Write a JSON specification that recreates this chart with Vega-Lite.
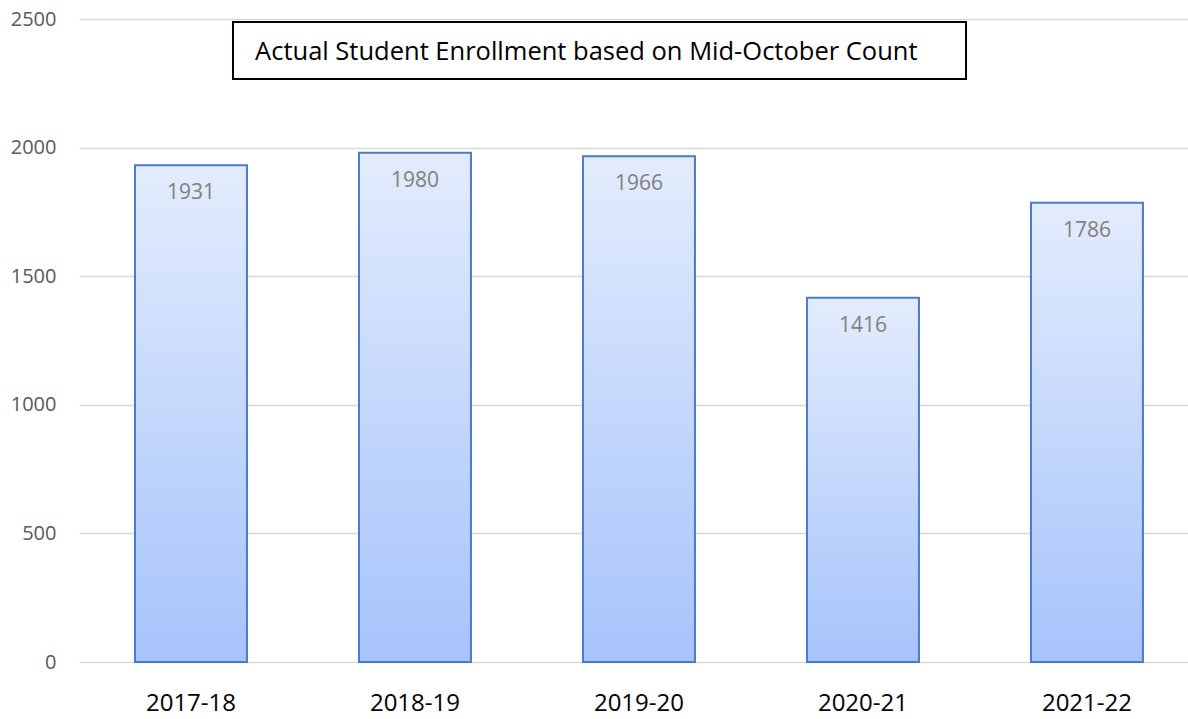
{
  "$schema": "https://vega.github.io/schema/vega-lite/v6.json",
  "width": 1109,
  "height": 643,
  "autosize": {"type": "none"},
  "padding": {"left": 79, "top": 19, "right": 0, "bottom": 57},
  "background": "white",
  "config": {"view": {"stroke": null}, "font": "Open Sans"},
  "layer": [
    {
      "data": {"values": [
        {"year": "2017-18", "enrollment": 1931},
        {"year": "2018-19", "enrollment": 1980},
        {"year": "2019-20", "enrollment": 1966},
        {"year": "2020-21", "enrollment": 1416},
        {"year": "2021-22", "enrollment": 1786}
      ]},
      "encoding": {
        "x": {"field": "year", "type": "nominal", "sort": null,
          "scale": {"paddingInner": 0.5, "paddingOuter": 0.2255, "align": 0.554},
          "axis": {"title": null, "labelAngle": 0, "labelFontSize": 24, "labelColor": "#000000", "labelPadding": 29, "ticks": false, "domain": false, "grid": false, "labelFont": "Open Sans"}},
        "y": {"field": "enrollment", "type": "quantitative",
          "scale": {"domain": [0, 2500], "nice": false},
          "axis": {"title": null, "values": [0, 500, 1000, 1500, 2000, 2500], "format": "d", "labelFontSize": 20, "labelColor": "#595959", "labelPadding": 23, "ticks": false, "domain": false, "grid": true, "gridColor": "#d9d9d9", "gridWidth": 1.5, "labelFont": "Open Sans"}}
      },
      "layer": [
        {"mark": {"type": "bar", "stroke": "#4a7bc4", "strokeWidth": 2,
          "color": {"gradient": "linear", "x1": 0, "y1": 0, "x2": 0, "y2": 1,
            "stops": [{"offset": 0, "color": "#e3ecfd"}, {"offset": 1, "color": "#a6c3fb"}]}}},
        {"mark": {"type": "text", "baseline": "middle", "dy": 28, "fontSize": 21, "color": "#7f7f7f", "font": "Open Sans"},
          "encoding": {"text": {"field": "enrollment", "type": "quantitative"}}}
      ]
    },
    {
      "data": {"values": [
        {"label": "Actual Student Enrollment based on Mid-October Count", "x1": 0.1875, "x2": 3.46, "tx": 0.286, "y1": 2488, "y2": 2267, "ty": 2372}
      ]},
      "layer": [
        {"mark": {"type": "rect", "fill": "white", "stroke": "#000000", "strokeWidth": 2},
          "encoding": {
            "x": {"field": "x1", "type": "quantitative", "scale": {"domain": [-0.5, 4.451], "nice": false, "zero": false}, "axis": null},
            "x2": {"field": "x2"},
            "y": {"field": "y1", "type": "quantitative"},
            "y2": {"field": "y2"}
          }},
        {"mark": {"type": "text", "align": "left", "baseline": "middle", "fontSize": 25.5, "color": "#000000", "font": "Open Sans"},
          "encoding": {
            "x": {"field": "tx", "type": "quantitative", "scale": {"domain": [-0.5, 4.451], "nice": false, "zero": false}, "axis": null},
            "y": {"field": "ty", "type": "quantitative"},
            "text": {"field": "label"}
          }}
      ]
    }
  ],
  "resolve": {"scale": {"x": "independent"}}
}
